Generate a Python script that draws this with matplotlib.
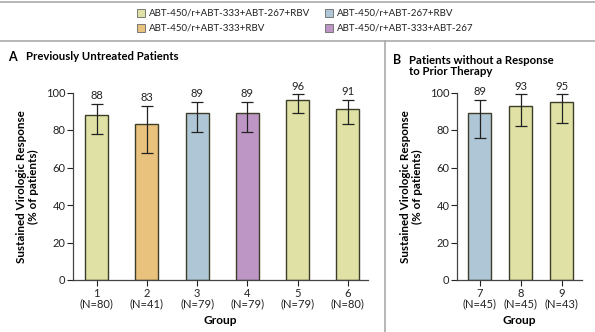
import matplotlib
matplotlib.use("Agg")
import matplotlib.pyplot as plt
from matplotlib.lines import Line2D
from matplotlib.patches import Rectangle

plt.rcParams['font.family'] = ['Lato', 'DejaVu Sans']

# ---- data ----
regimens = [
    "ABT-450/r+ABT-333+ABT-267+RBV",
    "ABT-450/r+ABT-267+RBV",
    "ABT-450/r+ABT-333+RBV",
    "ABT-450/r+ABT-333+ABT-267",
]
regimen_colors = ["#dfe2a4", "#aec6d5", "#e9c27d", "#bd96c6"]

groups_a = [1, 2, 3, 4, 5, 6]
n_a = [80, 41, 79, 79, 79, 80]
svr_a = [88, 83, 89, 89, 96, 91]
ci_low_a = [78, 68, 79, 79, 89, 83]
ci_high_a = [94, 93, 95, 95, 99, 96]
regimen_a = [0, 2, 1, 3, 0, 0]

groups_b = [7, 8, 9]
n_b = [45, 45, 43]
svr_b = [89, 93, 95]
ci_low_b = [76, 82, 84]
ci_high_b = [96, 99, 99]
regimen_b = [1, 0, 0]

W, H = 595, 332
fig = plt.figure(figsize=(W / 100, H / 100), dpi=100)
fig.patch.set_facecolor("white")

FS = 8.0


def px_axes(x0, y0, x1, y1):
    return fig.add_axes([x0 / W, 1 - y1 / H, (x1 - x0) / W, (y1 - y0) / H])


def draw_panel(ax, groups, n, svr, lo, hi, reg, bar_w, xlim):
    colors = [regimen_colors[r] for r in reg]
    ax.bar(groups, svr, width=bar_w, color=colors, edgecolor="#3d3d2a",
           linewidth=1.0, zorder=2)
    yerr = [[s - l for s, l in zip(svr, lo)], [h - s for s, h in zip(svr, hi)]]
    ax.errorbar(groups, svr, yerr=yerr, fmt="none", ecolor="#222222",
                elinewidth=0.9, capsize=4, capthick=0.9, zorder=3)
    for g, s, h in zip(groups, svr, hi):
        ax.text(g, h + 1.5, f"{s}", ha="center", va="bottom", fontsize=FS,
                color="#222222", clip_on=False)
    ax.set_xlim(*xlim)
    ax.set_ylim(0, 100)
    ax.set_yticks([0, 20, 40, 60, 80, 100])
    ax.set_xticks(groups)
    ax.set_xticklabels([f"{g}\n(N={k})" for g, k in zip(groups, n)],
                       fontsize=FS, linespacing=1.0)
    ax.tick_params(axis="y", labelsize=FS, length=4, width=0.8,
                   direction="out", pad=1.5, colors="#222222")
    ax.tick_params(axis="x", length=4, width=0.8, direction="out", pad=1.5,
                   colors="#222222")
    for side in ("top", "right"):
        ax.spines[side].set_visible(False)
    for side in ("left", "bottom"):
        ax.spines[side].set_color("#444444")
        ax.spines[side].set_linewidth(0.9)
    ax.set_xlabel("Group", fontsize=8.6, fontweight="bold", labelpad=4)
    ax.set_ylabel("Sustained Virologic Response\n(% of patients)",
                  fontsize=8.4, fontweight="bold", linespacing=1.1, labelpad=5)


ax_a = px_axes(73, 92.5, 368, 280)
draw_panel(ax_a, groups_a, n_a, svr_a, ci_low_a, ci_high_a, regimen_a,
           0.46, (0.53, 6.4))

ax_b = px_axes(457, 92.5, 582, 280)
draw_panel(ax_b, groups_b, n_b, svr_b, ci_low_b, ci_high_b, regimen_b,
           0.56, (6.44, 9.49))

# panel titles
fig.text(8 / W, 1 - 57 / H, "A", fontsize=9, fontweight="bold",
         va="center", ha="left")
fig.text(26 / W, 1 - 57 / H, "Previously Untreated Patients", fontsize=8.2,
         fontweight="bold", va="center", ha="left")
fig.text(393 / W, 1 - 59.5 / H, "B", fontsize=9, fontweight="bold",
         va="center", ha="left")
fig.text(409 / W, 1 - 66 / H, "Patients without a Response\nto Prior Therapy",
         fontsize=8.2, fontweight="bold", va="center", ha="left",
         linespacing=1.1)

# legend
legend_pos = [(137, 13), (325, 13), (137, 28), (325, 28)]
for (x, y), label, col in zip(legend_pos, regimens, regimen_colors):
    fig.patches.append(Rectangle((x / W, 1 - (y + 4) / H), 8 / W, 8 / H,
                                 transform=fig.transFigure, facecolor=col,
                                 edgecolor="#777777", linewidth=0.7))
    fig.text((x + 12) / W, 1 - y / H, label, fontsize=7.0, va="center",
             ha="left", color="#222222")

# frame rules
rule = dict(transform=fig.transFigure, color="#aaaaaa", linewidth=1.2)
fig.lines.append(Line2D([0, 1], [1 - 2 / H, 1 - 2 / H], **rule))
fig.lines.append(Line2D([0, 1], [1 - 41 / H, 1 - 41 / H], **rule))
fig.lines.append(Line2D([385 / W, 385 / W], [0, 1 - 41 / H], **rule))

fig.savefig("out.png", dpi=100, facecolor="white")
